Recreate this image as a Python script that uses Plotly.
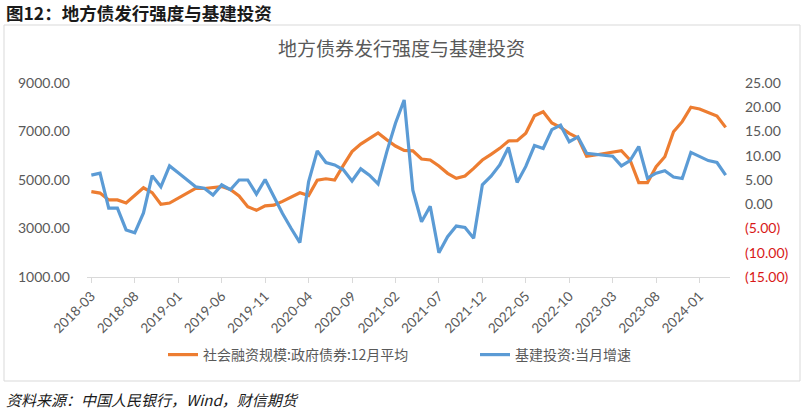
import plotly.graph_objects as go

# ---- data ----
months = [f"{y}-{m:02d}" for y in range(2018, 2025) for m in range(1, 13)]
categories = months[months.index("2018-03"):months.index("2024-04") + 1]

gov_bond_12m_avg = [4520, 4460, 4180, 4180, 4050, 4360, 4680, 4480, 4000, 4050,
                    4260, 4480, 4660, 4650, 4680, 4730, 4610, 4340, 3900, 3750,
                    3935, 3960, 4120, 4310, 4475, 4360, 4990, 5050, 5000, 5600,
                    6170, 6480, 6700, 6940, 6660, 6400, 6220, 6200, 5865, 5825,
                    5575, 5275, 5070, 5165, 5480, 5825, 6060, 6305, 6610, 6620,
                    6925, 7650, 7815, 7350, 7170, 6925, 6740, 5975, 6030, 6100,
                    6165, 6210, 5825, 4890, 4890, 5550, 5960, 6990, 7405, 8000,
                    7930, 7775, 7640, 7170]

infra_yoy = [6.0, 6.4, -0.8, -0.8, -5.3, -5.9, -1.8, 5.9, 3.6, 7.9,
             6.5, 5.1, 3.6, 3.3, 1.9, 4.0, 3.0, 5.0, 5.0, 2.1,
             5.1, 1.6, -1.9, -5.0, -7.9, 4.6, 11.0, 8.6, 8.1, 7.1,
             4.8, 7.3, 6.0, 4.2, 10.8, 16.7, 21.5, 2.9, -3.6, -0.4,
             -10.0, -6.7, -4.5, -4.8, -7.0, 4.0, 5.8, 8.1, 11.7, 4.5,
             7.8, 12.1, 11.5, 15.4, 16.3, 12.9, 13.9, 10.5, 10.3, 10.1,
             9.9, 7.9, 9.0, 11.9, 5.4, 6.4, 6.9, 5.6, 5.3, 10.7,
             9.8, 9.0, 8.6, 6.0]

x_tick_labels = categories[::5]
left_ticks = [1000, 3000, 5000, 7000, 9000]
right_ticks = [-15, -10, -5, 0, 5, 10, 15, 20, 25]
right_tick_text = ["(15.00)", "(10.00)", "(5.00)", "0.00", "5.00", "10.00", "15.00", "20.00", "25.00"]

name_orange = "社会融资规模:政府债券:12月平均"
name_blue = "基建投资:当月增速"
chart_title = "地方债券发行强度与基建投资"
fig_title = "图12：地方债发行强度与基建投资"
source_text = "资料来源：中国人民银行，Wind，财信期货"

# ---- figure ----
W, H = 807, 412
L, R, T, B = 87, 77, 83, 135
pw, ph = W - L - R, H - T - B

def px(x):
    return (x - L) / pw

def py(y):
    return (H - B - y) / ph

GRAY = "#595959"
CJK = "Noto Sans CJK SC"
NUM = "Lato"

fig = go.Figure()
fig.add_trace(go.Scatter(x=categories, y=gov_bond_12m_avg, name=name_orange,
                         mode="lines", line=dict(color="#ED7D31", width=3.2),
                         yaxis="y"))
fig.add_trace(go.Scatter(x=categories, y=infra_yoy, name=name_blue,
                         mode="lines", line=dict(color="#5B9BD5", width=3.2),
                         yaxis="y2"))

right_text_colored = [
    (f'<span style="color:#D81818">{t}</span>' if v < 0 else t)
    for v, t in zip(right_ticks, right_tick_text)
]

fig.update_layout(
    width=W, height=H,
    margin=dict(l=L, r=R, t=T, b=B, autoexpand=False),
    paper_bgcolor="white", plot_bgcolor="white",
    showlegend=True,
    legend=dict(orientation="h", x=px(163), y=py(355), xanchor="left", yanchor="middle",
                font=dict(family=CJK, size=14, color=GRAY),
                entrywidth=267, entrywidthmode="pixels",
                itemwidth=30, bgcolor="rgba(0,0,0,0)"),
    xaxis=dict(type="category", range=[-0.5, len(categories) - 0.5],
               tickmode="array", tickvals=x_tick_labels, ticktext=x_tick_labels,
               tickangle=-45, ticks="outside", ticklen=5, tickcolor="#D9D9D9",
               showline=True, linecolor="#D9D9D9", linewidth=1,
               showgrid=False, zeroline=False,
               tickfont=dict(family=NUM, size=13.5, color=GRAY)),
    yaxis=dict(range=[1000, 9000], tickvals=left_ticks, tickformat=".2f",
               showgrid=False, zeroline=False, showline=False,
               ticklabelstandoff=16,
               tickfont=dict(family=NUM, size=14, color=GRAY)),
    yaxis2=dict(range=[-15, 25], overlaying="y", side="right",
                tickvals=right_ticks, ticktext=right_text_colored,
                showgrid=False, zeroline=False, showline=False,
                ticklabelstandoff=14,
                tickfont=dict(family=NUM, size=14, color=GRAY)),
    shapes=[dict(type="rect", xref="paper", yref="paper",
                 x0=px(4), x1=px(800), y0=py(381), y1=py(25),
                 line=dict(color="#D9D9D9", width=1), fillcolor="rgba(0,0,0,0)",
                 layer="below")],
    annotations=[
        dict(text=f"<b>{fig_title}</b>", xref="paper", yref="paper",
             x=px(4), y=py(12), xanchor="left", yanchor="middle", showarrow=False,
             font=dict(family=CJK, size=17.5, color="#1a1a1a")),
        dict(text=chart_title, xref="paper", yref="paper",
             x=px(401), y=py(48), xanchor="center", yanchor="middle", showarrow=False,
             font=dict(family=CJK, size=19, color=GRAY)),
        dict(text=f"<i>{source_text}</i>", xref="paper", yref="paper",
             x=px(4), y=py(399), xanchor="left", yanchor="middle", showarrow=False,
             font=dict(family=CJK, size=15, color="#1a1a1a")),
    ],
)

fig.write_html("out.html",
               config={"displayModeBar": False},
               post_script="document.body.style.margin='0';document.body.style.overflow='hidden';")
